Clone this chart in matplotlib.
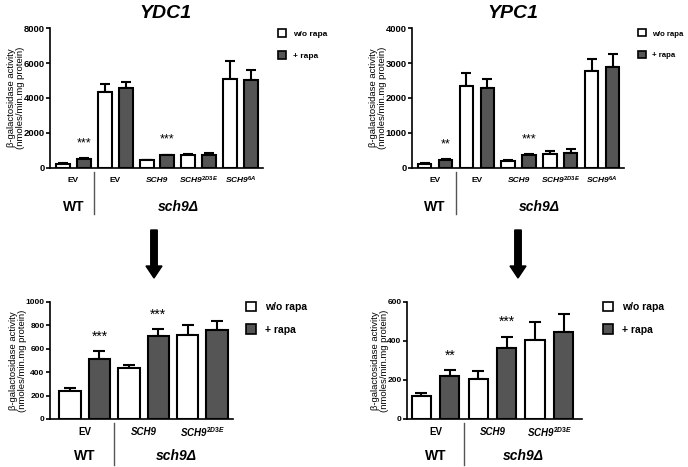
import numpy as np
import matplotlib.pyplot as plt
from matplotlib.patches import Patch, FancyArrow
import matplotlib.transforms as mtransforms

plt.rcParams['font.family'] = ['Liberation Sans', 'DejaVu Sans']
plt.rcParams['font.weight'] = 'bold'
plt.rcParams['mathtext.fontset'] = 'custom'
plt.rcParams['mathtext.it'] = 'Liberation Sans:italic:bold'
plt.rcParams['mathtext.rm'] = 'Liberation Sans:bold'
plt.rcParams['mathtext.default'] = 'it'

# top panels: 5 strains (WT EV, sch9 EV, SCH9, SCH9 2D3E, SCH9 6A)
ydc1_wo = [250, 4360, 440, 720, 5070]
ydc1_wo_err = [40, 430, 40, 70, 1050]
ydc1_rapa = [540, 4590, 716, 760, 5030]
ydc1_rapa_err = [50, 340, 50, 70, 580]
ydc1_stars = ['***', '', '***', '', '']

ypc1_wo = [125, 2345, 200, 400, 2776]
ypc1_wo_err = [15, 380, 30, 90, 336]
ypc1_rapa = [220, 2278, 370, 440, 2882]
ypc1_rapa_err = [30, 260, 40, 90, 382]
ypc1_stars = ['**', '', '***', '', '']

# bottom panels: 3 strains (WT EV, sch9 SCH9, sch9 SCH9 2D3E)
ydc1b_wo = [240, 435, 715]
ydc1b_wo_err = [22, 27, 85]
ydc1b_rapa = [515, 705, 755]
ydc1b_rapa_err = [65, 60, 80]
ydc1b_stars = ['***', '***', '']

ypc1b_wo = [120, 205, 405]
ypc1b_wo_err = [12, 43, 92]
ypc1b_rapa = [220, 365, 443]
ypc1b_rapa_err = [30, 55, 92]
ypc1b_stars = ['**', '***', '']

top_labels = ['EV', 'EV', 'SCH9', 'SCH9$^{2D3E}$', 'SCH9$^{6A}$']
bot_labels = ['EV', 'SCH9', 'SCH9$^{2D3E}$']

dark = '#555555'
ylab = u'\u03b2-galactosidase activity\n(nmoles/min.mg protein)'

fig = plt.figure(figsize=(6.88, 4.67), dpi=100)


def panel(rect, wo, wo_err, rapa, rapa_err, stars, labels, ymax, ystep,
          xlim, width, fs, tfs, cap, star_off, lab_y, wt_y, sep_y, sch_x, leg_anchor, leg_fs, leg_sp):
    ax = fig.add_axes(rect)
    n = len(wo)
    xw = np.arange(n) * 2
    xr = xw + 1
    ax.bar(xw, wo, width=width, color='white', edgecolor='black', linewidth=1.5, zorder=2)
    ax.bar(xr, rapa, width=width, color=dark, edgecolor='black', linewidth=1.5, zorder=2)
    ax.errorbar(xw, wo, yerr=[np.zeros(n), wo_err], fmt='none', ecolor='black',
                elinewidth=1.5, capsize=cap, capthick=1.5, zorder=1)
    ax.errorbar(xr, rapa, yerr=[np.zeros(n), rapa_err], fmt='none', ecolor='black',
                elinewidth=1.5, capsize=cap, capthick=1.5, zorder=1)
    for i in range(n):
        if stars[i]:
            ax.text(xr[i], rapa[i] + rapa_err[i] + star_off * ymax, stars[i],
                    ha='center', va='center', fontsize=fs + 3, fontweight='normal')
    ax.set_xlim(*xlim)
    ax.set_ylim(0, ymax)
    ax.set_yticks(np.arange(0, ymax + 1, ystep))
    ax.set_xticks([])
    for s in ['top', 'right']:
        ax.spines[s].set_visible(False)
    ax.spines['left'].set_linewidth(1.2)
    ax.spines['bottom'].set_linewidth(1.2)
    ax.tick_params(axis='y', labelsize=tfs, width=1.2, length=3, pad=1)
    ax.set_ylabel(ylab, fontsize=6.8, labelpad=-1, linespacing=1.0)

    tr = mtransforms.blended_transform_factory(ax.transData, ax.transAxes)
    for i, lab in enumerate(labels):
        st = 'normal' if lab == 'EV' else 'italic'
        ax.text(2 * i + 0.5, lab_y, lab, transform=tr, ha='center', va='center',
                fontsize=fs, style=st)
    ax.text(0.5, wt_y, 'WT', transform=tr, ha='center', va='center', fontsize=10)
    ax.text(sch_x, wt_y, u'sch9\u0394', transform=tr, ha='center', va='center',
            fontsize=10, style='italic')
    ax.plot([1.5, 1.5], sep_y, transform=tr, color='#555555', lw=1.0, clip_on=False)

    handles = [Patch(facecolor='white', edgecolor='black', linewidth=1.2, label='w/o rapa'),
               Patch(facecolor=dark, edgecolor='black', linewidth=1.2, label='+ rapa')]
    ax.legend(handles=handles, loc='upper left', bbox_to_anchor=leg_anchor, frameon=False,
              fontsize=leg_fs, handlelength=1.0, handleheight=1.0, handletextpad=0.8,
              labelspacing=leg_sp, borderpad=0, borderaxespad=0)
    return ax


ax1 = panel([0.0727, 0.6403, 0.3096, 0.2997], ydc1_wo, ydc1_wo_err, ydc1_rapa, ydc1_rapa_err,
            ydc1_stars, top_labels, 8000, 2000, (-0.62, 9.57), 0.67, 6.0, 6.8, 3.5, 0.105,
            -0.086, -0.28, [-0.03, -0.33], 5.5, (1.07, 0.99), 6.0, 1.6)
ax2 = panel([0.5993, 0.6403, 0.3077, 0.2997], ypc1_wo, ypc1_wo_err, ypc1_rapa, ypc1_rapa_err,
            ypc1_stars, top_labels, 4000, 1000, (-0.59, 9.55), 0.64, 6.0, 6.8, 3.5, 0.105,
            -0.086, -0.28, [-0.03, -0.33], 5.5, (1.065, 0.99), 5.6, 1.7)
ax3 = panel([0.0727, 0.1028, 0.266, 0.2512], ydc1b_wo, ydc1b_wo_err, ydc1b_rapa, ydc1b_rapa_err,
            ydc1b_stars, bot_labels, 1000, 200, (-0.68, 5.54), 0.73, 7.0, 6.0, 4.5, 0.125,
            -0.11, -0.315, [-0.034, -0.39], 3.6, (1.07, 1.0), 7.5, 1.2)
ax4 = panel([0.5916, 0.1028, 0.2544, 0.2512], ypc1b_wo, ypc1b_wo_err, ypc1b_rapa, ypc1b_rapa_err,
            ypc1b_stars, bot_labels, 600, 200, (-0.505, 5.65), 0.68, 7.0, 6.0, 4.5, 0.125,
            -0.11, -0.315, [-0.034, -0.39], 3.6, (1.12, 1.0), 7.5, 1.2)

fig.text(165 / 688, 1 - 13 / 467, 'YDC1', ha='center', va='center', fontsize=14, style='italic')
fig.text(513 / 688, 1 - 13 / 467, 'YPC1', ha='center', va='center', fontsize=14, style='italic')

for xa in [1.54, 5.18]:
    fig.add_artist(FancyArrow(xa, 2.37, 0, -0.48, width=0.065, head_width=0.16,
                              head_length=0.12, length_includes_head=True,
                              color='black', transform=fig.dpi_scale_trans))

fig.savefig('out.png', dpi=100)
